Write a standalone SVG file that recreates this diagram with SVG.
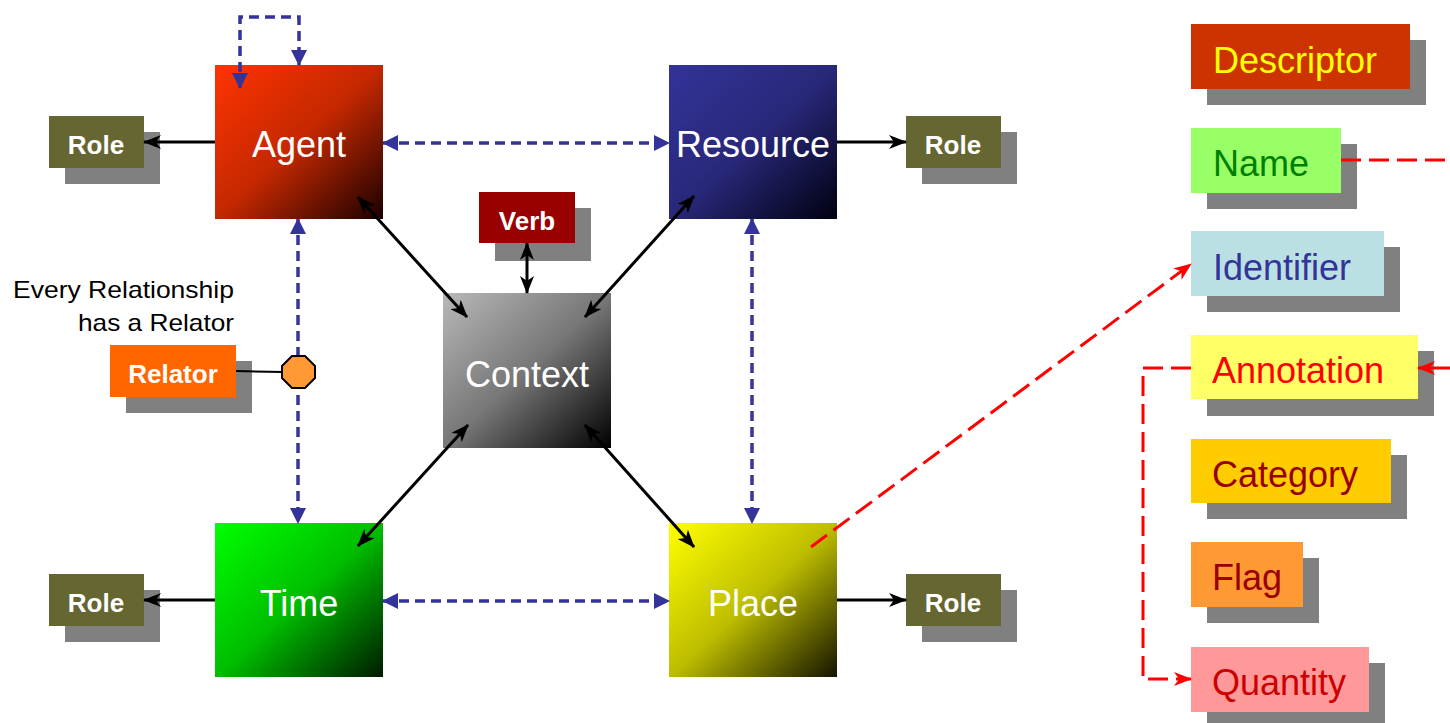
<svg xmlns="http://www.w3.org/2000/svg" width="1450" height="723" viewBox="0 0 1450 723">
<style>
text{font-family:"Liberation Sans",Arial,sans-serif}
.big{font-size:36px;fill:#fff;text-anchor:middle}
.lbl{font-size:26px;font-weight:bold;fill:#fff;text-anchor:middle}
.desc{font-size:36px}
.sh{fill:#808080}
.role{fill:#666633}
.blue{stroke:#333399;stroke-width:3.5;fill:none;stroke-dasharray:10 6;marker-start:url(#ba);marker-end:url(#ba)}
.blk{stroke:#000;stroke-width:3;fill:none;marker-end:url(#ka)}
.blk2{stroke:#000;stroke-width:3;fill:none;marker-start:url(#ka);marker-end:url(#ka)}
.red{stroke:#FF0000;stroke-width:3;fill:none;stroke-dasharray:20 8}
</style>
<defs>
<marker id="ba" markerUnits="userSpaceOnUse" viewBox="0 0 16 16" refX="15" refY="8" markerWidth="16" markerHeight="16" orient="auto-start-reverse"><path d="M0,0 L16,8 L0,16 z" fill="#333399"/></marker>
<marker id="ka" markerUnits="userSpaceOnUse" viewBox="0 0 18 14" refX="17" refY="7" markerWidth="18" markerHeight="14" orient="auto-start-reverse"><path d="M0,0 L18,7 L0,14 L5,7 z" fill="#000"/></marker>
<marker id="ra" markerUnits="userSpaceOnUse" viewBox="0 0 18 14" refX="17" refY="7" markerWidth="18" markerHeight="14" orient="auto-start-reverse"><path d="M0,0 L18,7 L0,14 L5,7 z" fill="#FF0000"/></marker>
<linearGradient id="gA" x1="0" y1="0" x2="1" y2="1"><stop offset="0" stop-color="#FF3300"/><stop offset="0.5" stop-color="#C42800"/><stop offset="1" stop-color="#1a0000"/></linearGradient>
<linearGradient id="gR" x1="0" y1="0" x2="1" y2="1"><stop offset="0" stop-color="#333399"/><stop offset="0.5" stop-color="#28287A"/><stop offset="1" stop-color="#000010"/></linearGradient>
<linearGradient id="gT" x1="0" y1="0" x2="1" y2="1"><stop offset="0" stop-color="#00FF00"/><stop offset="0.5" stop-color="#00BE00"/><stop offset="1" stop-color="#001a00"/></linearGradient>
<linearGradient id="gP" x1="0" y1="0" x2="1" y2="1"><stop offset="0" stop-color="#FFFF00"/><stop offset="0.5" stop-color="#BDBD00"/><stop offset="1" stop-color="#141400"/></linearGradient>
<linearGradient id="gC" x1="0" y1="0" x2="1" y2="1"><stop offset="0" stop-color="#B8B8B8"/><stop offset="0.5" stop-color="#777777"/><stop offset="1" stop-color="#000000"/></linearGradient>
</defs>

<g id="agent"><rect x="215" y="65" width="168" height="154" fill="url(#gA)"/><text class="big" x="299" y="157">Agent</text></g>
<g id="resource"><rect x="669" y="65" width="168" height="154" fill="url(#gR)"/><text class="big" x="753" y="157">Resource</text></g>
<g id="time"><rect x="215" y="523" width="168" height="154" fill="url(#gT)"/><text class="big" x="299" y="616">Time</text></g>
<g id="place"><rect x="669" y="523" width="168" height="154" fill="url(#gP)"/><text class="big" x="753" y="616">Place</text></g>
<g id="context"><rect x="443" y="293" width="168" height="155" fill="url(#gC)"/><text class="big" x="527" y="387">Context</text></g>

<g id="verb"><rect class="sh" x="495" y="208" width="96" height="53"/><rect x="479" y="192" width="96" height="51" fill="#990000"/><text class="lbl" x="527" y="230">Verb</text></g>

<g id="role-agent"><rect class="sh" x="65" y="132" width="95" height="52"/><rect class="role" x="49" y="116" width="95" height="52"/><text class="lbl" x="96" y="154">Role</text></g>
<g id="role-resource"><rect class="sh" x="922" y="132" width="95" height="52"/><rect class="role" x="906" y="116" width="95" height="52"/><text class="lbl" x="953" y="154">Role</text></g>
<g id="role-time"><rect class="sh" x="65" y="590" width="95" height="52"/><rect class="role" x="49" y="574" width="95" height="52"/><text class="lbl" x="96" y="612">Role</text></g>
<g id="role-place"><rect class="sh" x="922" y="590" width="95" height="52"/><rect class="role" x="906" y="574" width="95" height="52"/><text class="lbl" x="953" y="612">Role</text></g>

<g id="relator"><rect class="sh" x="126" y="361" width="126" height="52"/><rect x="110" y="345" width="126" height="52" fill="#FF6600"/><text class="lbl" x="173" y="383">Relator</text></g>
<g id="note"><text x="13" y="298" font-size="24" fill="#000" textLength="221" lengthAdjust="spacingAndGlyphs">Every Relationship</text><text x="78" y="331" font-size="24" fill="#000" textLength="156" lengthAdjust="spacingAndGlyphs">has a Relator</text></g>

<g id="descriptor"><rect class="sh" x="1207" y="40" width="219" height="65"/><rect x="1191" y="24" width="219" height="65" fill="#CC3300"/><text class="desc" x="1213" y="73" fill="#FFFF00">Descriptor</text></g>
<g id="name"><rect class="sh" x="1207" y="144" width="150" height="65"/><rect x="1191" y="128" width="150" height="65" fill="#99FF66"/><text class="desc" x="1213" y="176" fill="#008000">Name</text></g>
<g id="identifier"><rect class="sh" x="1207" y="247" width="193" height="65"/><rect x="1191" y="231" width="193" height="65" fill="#BBE0E3"/><text class="desc" x="1213" y="280" fill="#333399">Identifier</text></g>
<g id="annotation"><rect class="sh" x="1207" y="351" width="227" height="65"/><rect x="1191" y="335" width="227" height="64" fill="#FFFF66"/><text class="desc" x="1212" y="383" fill="#FF0000">Annotation</text></g>
<g id="category"><rect class="sh" x="1207" y="455" width="200" height="64"/><rect x="1191" y="439" width="200" height="64" fill="#FFCC00"/><text class="desc" x="1212" y="487" fill="#990000">Category</text></g>
<g id="flag"><rect class="sh" x="1207" y="558" width="112" height="65"/><rect x="1191" y="542" width="112" height="65" fill="#FF9933"/><text class="desc" x="1212" y="590" fill="#990000">Flag</text></g>
<g id="quantity"><rect class="sh" x="1207" y="663" width="178" height="65"/><rect x="1191" y="647" width="178" height="65" fill="#FF9999"/><text class="desc" x="1212" y="695" fill="#CC0000">Quantity</text></g>

<g id="connectors">
<path class="blue" d="M240,88 L240,17 L299,17 L299,65"/>
<line class="blue" x1="383" y1="143" x2="669" y2="143"/>
<line class="blue" x1="383" y1="601" x2="669" y2="601"/>
<line class="blue" x1="298" y1="219" x2="298" y2="523"/>
<line class="blue" x1="752" y1="219" x2="752" y2="523"/>
<line class="blk2" x1="358" y1="197" x2="467" y2="317"/>
<line class="blk2" x1="694" y1="196" x2="585" y2="317"/>
<line class="blk2" x1="468" y1="425" x2="358" y2="546"/>
<line class="blk2" x1="585" y1="425" x2="694" y2="547"/>
<line class="blk2" x1="527" y1="243" x2="527" y2="293"/>
<line class="blk" x1="215" y1="142" x2="144" y2="142"/>
<line class="blk" x1="837" y1="142" x2="906" y2="142"/>
<line class="blk" x1="215" y1="600" x2="144" y2="600"/>
<line class="blk" x1="837" y1="600" x2="906" y2="600"/>
<line x1="236" y1="371" x2="283" y2="372" stroke="#000" stroke-width="2"/>
<polygon points="292,356 305,356 315,366 315,378 305,388 292,388 282,378 282,366" fill="#FF9933" stroke="#000" stroke-width="2"/>
<line class="red" x1="811" y1="547" x2="1191" y2="264" marker-end="url(#ra)"/>
<line class="red" x1="1341" y1="160" x2="1450" y2="160"/>
<line class="red" x1="1450" y1="368" x2="1418" y2="368" marker-end="url(#ra)"/>
<path class="red" d="M1191,368 L1143,368 L1143,679 L1191,679" marker-end="url(#ra)"/>
</g>
</svg>
